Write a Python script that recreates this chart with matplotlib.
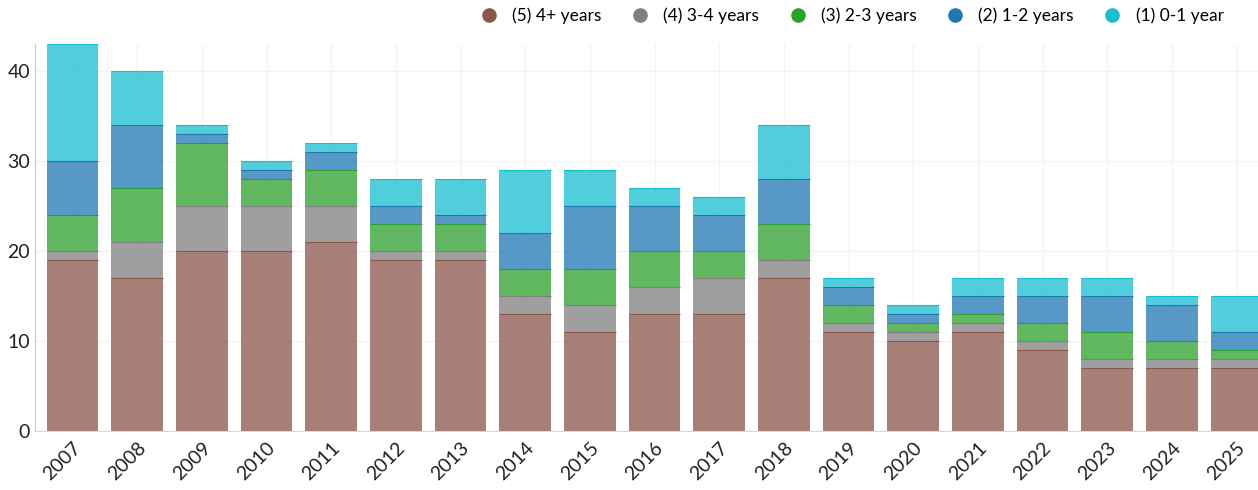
import numpy as np
import matplotlib
matplotlib.use('Agg')
import matplotlib.pyplot as plt
from matplotlib.lines import Line2D

years = [str(y) for y in range(2007, 2026)]
y4plus = [19, 17, 20, 20, 21, 19, 19, 13, 11, 13, 13, 17, 11, 10, 11, 9, 7, 7, 7]
y3_4 = [1, 4, 5, 5, 4, 1, 1, 2, 3, 3, 4, 2, 1, 1, 1, 1, 1, 1, 1]
y2_3 = [4, 6, 7, 3, 4, 3, 3, 3, 4, 4, 3, 4, 2, 1, 1, 2, 3, 2, 1]
y1_2 = [6, 7, 1, 1, 2, 2, 1, 4, 7, 5, 4, 5, 2, 1, 2, 3, 4, 4, 2]
y0_1 = [13, 6, 1, 1, 1, 3, 4, 7, 4, 2, 2, 6, 1, 1, 2, 2, 2, 1, 4]

series = [
    ('(5) 4+ years', y4plus, '#8c564b'),
    ('(4) 3-4 years', y3_4, '#7f7f7f'),
    ('(3) 2-3 years', y2_3, '#2ca02c'),
    ('(2) 1-2 years', y1_2, '#1f77b4'),
    ('(1) 0-1 year', y0_1, '#17becf'),
]

plt.rcParams['font.family'] = ['Lato', 'DejaVu Sans']

fig = plt.figure(figsize=(12.58, 4.9), dpi=100)
ax = fig.add_axes([0.0278, 0.1204, 0.9722, 0.7898])

x = np.arange(len(years))
width = 0.8
bottom = np.zeros(len(years))
for name, vals, col in series:
    vals = np.array(vals, dtype=float)
    ax.bar(x, vals, width, bottom=bottom, color=col, alpha=0.75, linewidth=0, zorder=3)
    top = bottom + vals
    mask = vals > 0
    ax.hlines(top[mask], x[mask] - width / 2, x[mask] + width / 2, color=col, linewidth=0.8, zorder=4)
    bottom = top

ax.set_xlim(-0.58, 18.33)
ax.set_ylim(0, 43)
ax.set_yticks([0, 10, 20, 30, 40])
ax.set_xticks(x)
ax.set_xticklabels(years, rotation=45, ha='right', rotation_mode='anchor')
ax.tick_params(axis='both', length=0, labelsize=14, colors='#222222')
ax.tick_params(axis='x', pad=6)
ax.grid(True, color='#f3f3f3', linewidth=1, zorder=0)
for s in ['top', 'right']:
    ax.spines[s].set_visible(False)
ax.spines['left'].set_color('#c8c8c8')
ax.spines['bottom'].set_color('#d8d8d8')

handles = [Line2D([], [], marker='o', linestyle='none', markersize=9.5, color=c, label=n)
           for n, v, c in series]
fig.legend(handles=handles, loc='upper right', ncol=5, frameon=False,
           bbox_to_anchor=(0.985, 1.016), fontsize=12.5, handletextpad=0.35, columnspacing=1.2)

fig.savefig('out.png', dpi=100)
